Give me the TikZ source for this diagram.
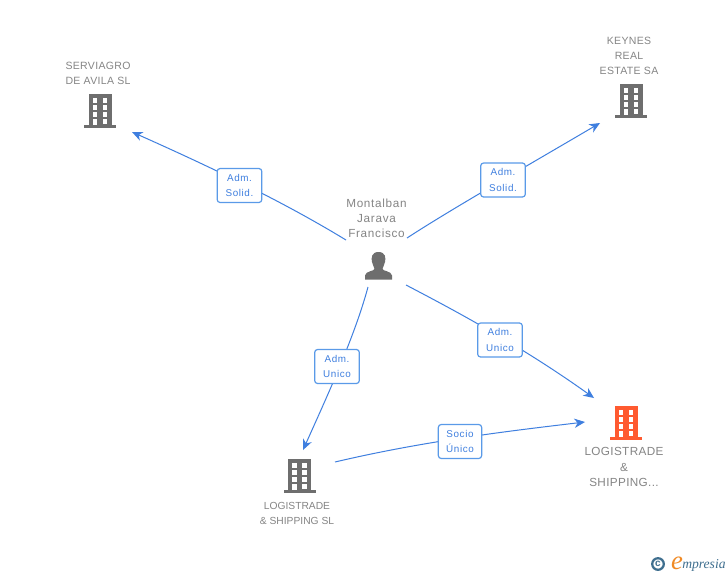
\documentclass[tikz,border=0pt]{standalone}
\usepackage{fontspec}
\setmainfont{Liberation Sans}
\newfontfamily\spaced[LetterSpace=3]{Liberation Sans}
\newfontfamily\spacedw[LetterSpace=6]{Liberation Sans}
\newfontfamily\logofont{Liberation Serif}
\definecolor{txtgray}{HTML}{858585}
\definecolor{icongray}{HTML}{6E6E6E}
\definecolor{linkblue}{HTML}{3F7FDF}
\definecolor{boxblue}{HTML}{5A9AE8}
\definecolor{iconorange}{HTML}{FF5A30}
\definecolor{logoblue}{HTML}{3F6F8F}
\definecolor{logoorange}{HTML}{F08A24}
\usetikzlibrary{arrows.meta}
\tikzset{
  x=0.75pt,y=-0.75pt,
  lbl/.style={font=\spaced\fontsize{7.9}{11.2}\selectfont,text=txtgray,align=center,inner sep=0pt},
  tag/.style={draw=boxblue,line width=0.9pt,rounded corners=2.2pt,fill=white,minimum width=33.5pt,minimum height=25.5pt,inner sep=0pt,align=center,text=linkblue,font=\spacedw\fontsize{7.4}{11.7}\selectfont},
  link/.style={draw=linkblue,line width=0.75pt},
  tip/.style={-{Stealth[length=8pt,width=7pt,inset=2.5pt]}},
  pics/building/.style={code={
    \fill[#1] (-11.5,0) rectangle (11.5,31);
    \fill[#1] (-16,30.5) rectangle (16,34);
    \foreach \r in {0,1,2}{
      \fill[white] (-7.5,{4+7.2*\r}) rectangle (-2.7,{8.6+7.2*\r});
      \fill[white] (2.5,{4+7.2*\r}) rectangle (7.3,{8.6+7.2*\r});
    }
    \fill[white] (-7.5,25.4) rectangle (-2.7,31);
    \fill[white] (2.5,25.4) rectangle (7.3,30);
  }}
}
\begin{document}
\begin{tikzpicture}
\useasboundingbox (0,0) rectangle (728,575);
\fill[white] (0,0) rectangle (728,575);

% free ends of the connectors
\coordinate (s1) at (346,240);
\coordinate (e1) at (132,132);
\coordinate (s2) at (407,238);
\coordinate (e2) at (600,123);
\coordinate (s3) at (406,285);
\coordinate (e3) at (594,398);
\coordinate (s4) at (368,287);
\coordinate (e4) at (303,450);
\coordinate (s5) at (335,462);
\coordinate (e5) at (585,422);

% connectors
\draw[link,tip] (s1) .. controls (300,212) and (240,180) .. (e1);
\draw[link,tip] (s2) .. controls (450,210) and (520,170) .. (e2);
\draw[link,tip] (s3) .. controls (450,308) and (520,345) .. (e3);
\draw[link,tip] (s4) .. controls (355,335) and (330,390) .. (e4);
\draw[link,tip] (s5) .. controls (420,442) and (500,432) .. (e5);

% connector labels
\node[tag] (t1) at (239.5,185.5) {Adm.\\Solid.};
\node[tag] (t2) at (503,180) {Adm.\\Solid.};
\node[tag] (t3) at (500,340) {Adm.\\Unico};
\node[tag] (t4) at (337,366.5) {Adm.\\Unico};
\node[tag,minimum width=32.5pt] (t5) at (460,441.5) {Socio\\Único};

% icons
\pic at (100,94) {building=icongray};
\pic at (631,84) {building=icongray};
\pic at (299.5,459) {building=icongray};
\pic at (626,406) {building=iconorange};

% person
\fill[icongray] (378.5,252) .. controls (371.5,252) and (371,258) .. (372,262)
  .. controls (372.5,265.5) and (374.5,267) .. (374.5,269)
  .. controls (374.5,271) and (365.5,271) .. (365,275.5) -- (365,279.5) -- (392,279.5) -- (392,275.5)
  .. controls (391.5,271) and (382.5,271) .. (382.5,269)
  .. controls (382.5,267) and (384.5,265.5) .. (385,262)
  .. controls (386,258) and (385.5,252) .. (378.5,252) -- cycle;

% node labels
\node[lbl] (n1) at (98,73) {SERVIAGRO\\DE AVILA SL};
\node[lbl] (n2) at (629,55.5) {KEYNES\\REAL\\ESTATE SA};
\node[lbl,font=\spacedw\fontsize{8.8}{11.3}\selectfont] (n3) at (376.5,218) {Montalban\\Jarava\\Francisco};
\node[lbl,font=\spaced\fontsize{8.8}{11.4}\selectfont] (n4) at (624,467) {LOGISTRADE\\\&\\SHIPPING...};
\node[lbl,font=\rmfamily\fontsize{7.7}{11.2}\selectfont] (n5) at (297,513) {LOGISTRADE\\\& SHIPPING SL};

% logo
\draw[logoblue,line width=1.7pt] (658,564) circle (5.8);
\node[text=logoblue,font=\fontsize{7.5}{7.5}\selectfont\bfseries,inner sep=0pt] (c) at (658,563.5) {c};
\node[text=logoorange,font=\logofont\itshape\fontsize{20}{20}\selectfont,inner sep=0pt,anchor=base] (le) at (677,569.5) {e};
\node[text=logoblue,font=\logofont\itshape\fontsize{10.2}{11}\selectfont,inner sep=0pt,anchor=base west] (lm) at (682,568) {mpresia};
\end{tikzpicture}
\end{document}
